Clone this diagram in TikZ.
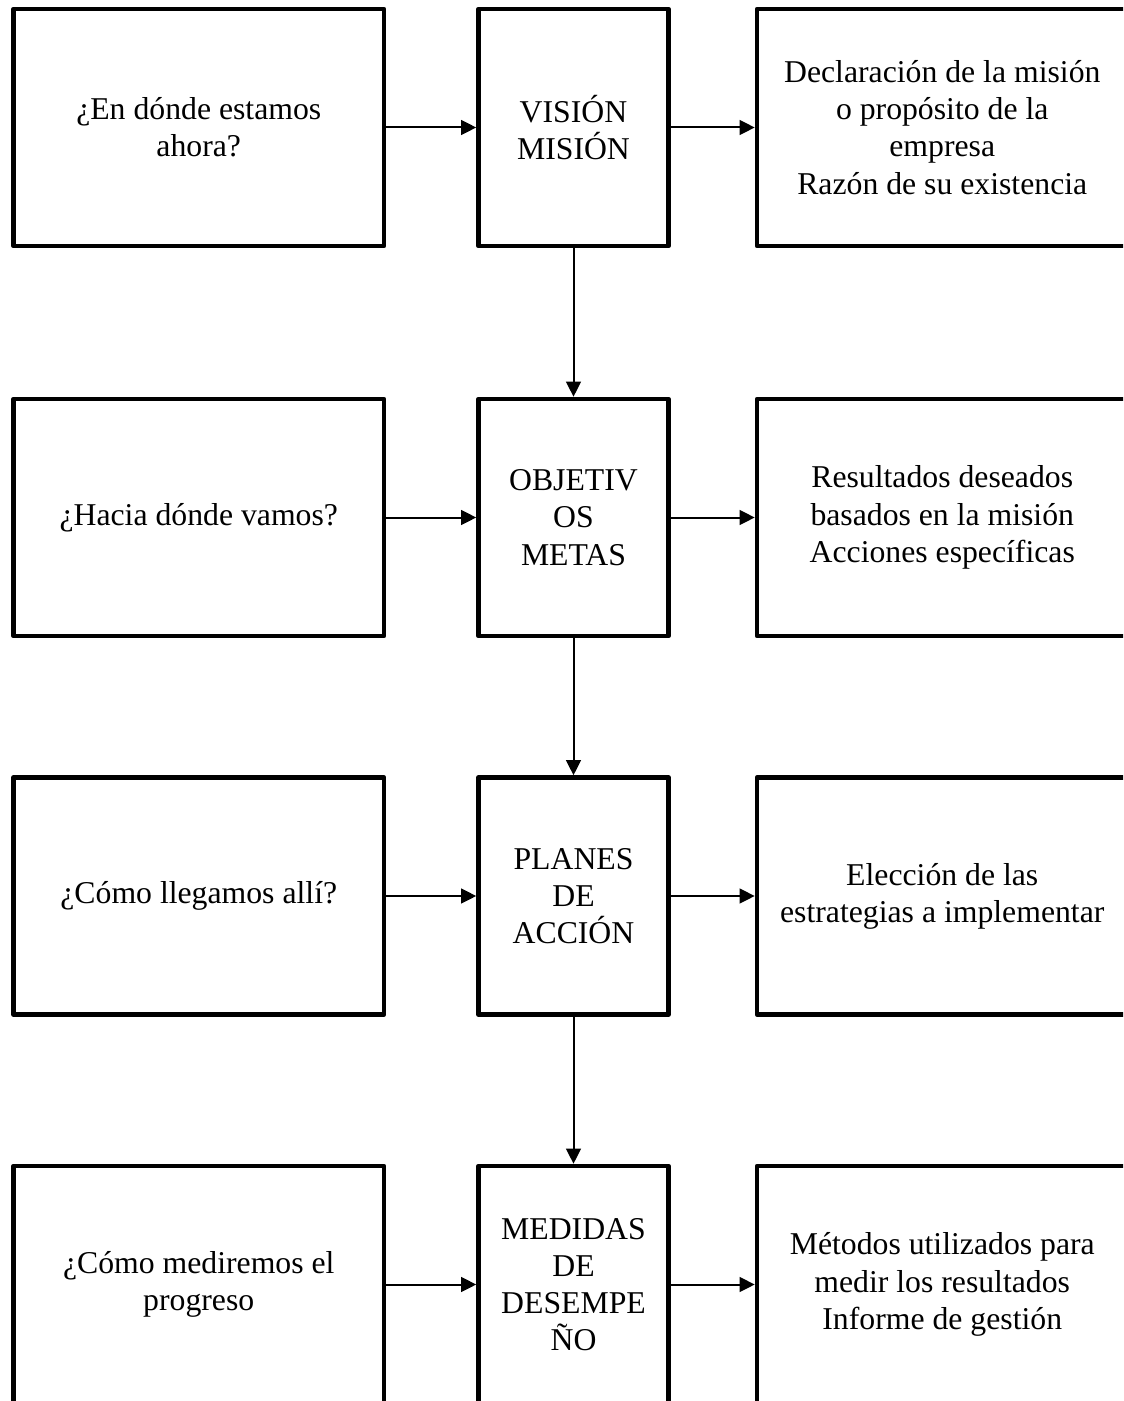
\documentclass[tikz,border=0pt]{standalone}
\usepackage{fontspec}
\setmainfont{Liberation Serif}
\usetikzlibrary{arrows.meta}

\tikzset{
  box/.style={draw, line width=3.4pt, line join=round, fill=white,
    minimum height=177.75pt, align=center, inner sep=2pt,
    font=\fontsize{23.8}{27.9}\selectfont},
  widebox/.style={box, minimum width=277.9pt},
  narrowbox/.style={box, minimum width=142.5pt},
  link/.style={line width=1.5pt, -{Triangle[length=11.25pt, width=11pt]}}
}

\begin{document}
\begin{tikzpicture}[x=0.75pt, y=-0.75pt]
  \useasboundingbox (0,0) rectangle (1123,1401);
  \clip (0,0) rectangle (1123,1401);

  % Row 1
  \node[widebox]   (q1) at (198.75,127.5) {¿En dónde estamos\\ahora?};
  \node[narrowbox] (m1) at (573.5,127.5)  {VISIÓN\\MISIÓN};
  \node[widebox]   (r1) at (942.25,127.5) {Declaración de la misión\\o propósito de la\\empresa\\Razón de su existencia};

  % Row 2
  \node[widebox]   (q2) at (198.75,517.5) {¿Hacia dónde vamos?};
  \node[narrowbox] (m2) at (573.5,517.5)  {OBJETIV\\OS\\METAS};
  \node[widebox]   (r2) at (942.25,517.5) {Resultados deseados\\basados en la misión\\Acciones específicas};

  % Row 3
  \node[widebox]   (q3) at (198.75,896)   {¿Cómo llegamos allí?};
  \node[narrowbox] (m3) at (573.5,896)    {PLANES\\DE\\ACCIÓN};
  \node[widebox]   (r3) at (942.25,896)   {Elección de las\\estrategias a implementar};

  % Row 4
  \node[widebox]   (q4) at (198.75,1284.5) {¿Cómo mediremos el\\progreso};
  \node[narrowbox] (m4) at (573.5,1284.5)  {MEDIDAS\\DE\\DESEMPE\\ÑO};
  \node[widebox]   (r4) at (942.25,1284.5) {Métodos utilizados para\\medir los resultados\\Informe de gestión};

  % Horizontal connectors
  \foreach \i in {1,2,3,4} {
    \draw[link] (q\i.east) -- (m\i.west);
    \draw[link] (m\i.east) -- (r\i.west);
  }

  % Vertical connectors
  \draw[link] (m1.south) -- (m2.north);
  \draw[link] (m2.south) -- (m3.north);
  \draw[link] (m3.south) -- (m4.north);
\end{tikzpicture}
\end{document}
